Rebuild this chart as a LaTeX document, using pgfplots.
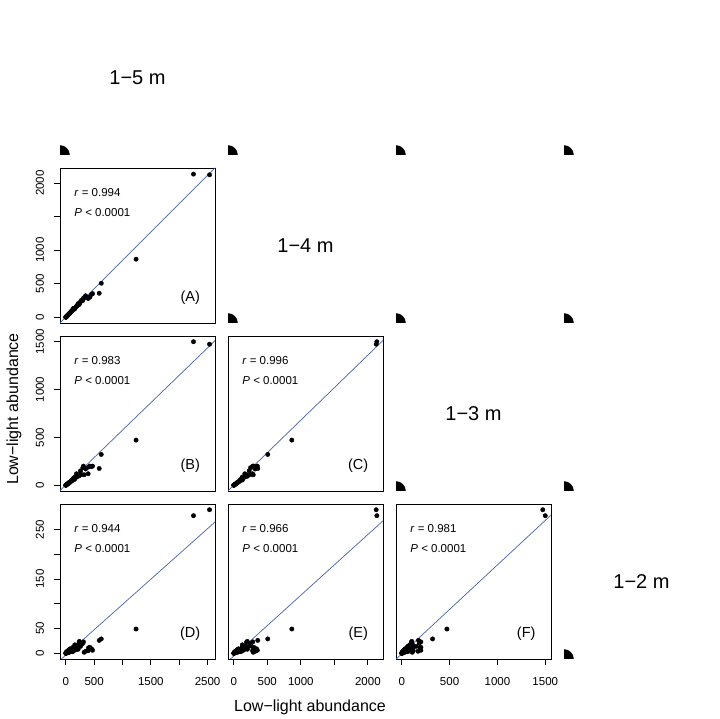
\documentclass[border=0pt]{standalone}
\usepackage{fontspec}
\setmainfont{Liberation Sans}
\usepackage{pgfplots}
\usepackage{pgfplotstable}
\pgfplotsset{compat=1.18}
\definecolor{regline}{RGB}{72,98,168}

\pgfplotstableread{
v1 v2 v3 v4
2535 2124 1474 290
2252 2134 1500 278
1240 866 472 49
626 507 322 29
590 358 175 26
472 352 200 6
454 340 195 9
425 300 200 12
401 290 190 11
395 280 120 5
324 291 110 2
312 284 200 23
301 250 183 20
277 253 112 18
240 202 105 24
236 190 100 22
218 203 94 8
200 170 90 15
180 153 85 7
165 140 70 15
160 128 86 17
150 120 60 10
140 130 75 5
129 128 55 12
120 105 62 3
110 95 48 8
100 90 50 6
90 82 40 4
80 70 35 9
72 60 30 5
65 58 32 2
55 50 25 7
48 42 20 3
40 36 18 5
35 30 15 1
28 25 12 4
22 20 10 2
18 15 8 1
14 12 6 3
10 9 4 1
7 6 3 0
5 4 2 1
3 2 1 0
2 1 1 0
1 1 0 0
260 230 150 14
190 165 120 11
350 320 170 4
}\data

\tikzset{
  rtxt/.style={anchor=west,font=\fontsize{11.5}{13}\selectfont},
  lab/.style={font=\fontsize{14.5}{16}\selectfont},
  diag/.style={font=\fontsize{20}{22}\selectfont},
}
\pgfplotsset{
  panel/.style={width=155pt,height=155pt,scale only axis,anchor=south west,
    axis line style={line width=0.8pt}, xtick=\empty, ytick=\empty, clip=true,
    tick style={black,line width=0.8pt}, major tick length=6pt, tick align=outside,
    xtick pos=left, ytick pos=left,
    tick label style={font=\fontsize{11.5}{13}\selectfont},
    yticklabel style={rotate=90,anchor=south},
    xticklabel shift=9pt, yticklabel shift=6.5pt,
    /pgf/number format/assume math mode=true},
  corner/.style={width=155pt,height=155pt,scale only axis,anchor=south west,
    hide axis, xmin=0,xmax=1,ymin=0,ymax=1, clip=true, clip marker paths=true},
  Xa/.style={xmin=-101.2,xmax=2631.2},
  Xb/.style={xmin=-85.6,xmax=2225.6},
  Xc/.style={xmin=-60,xmax=1560},
  Yb/.style={ymin=-85.6,ymax=2225.6},
  Yc/.style={ymin=-60,ymax=1560},
  Yd/.style={ymin=-11.6,ymax=301.6},
  dots/.style={only marks, mark=*, mark size=2.2pt, black},
  reg/.style={regline, line width=0.7pt, no marks},
  qc/.style={only marks, mark=*, mark size=9.5pt, black},
}

\begin{document}
\begin{tikzpicture}
\path[use as bounding box] (0,0) rectangle (720pt,719pt);

% ---- corner / diagonal cells ----
\begin{axis}[corner, at={(60pt,564pt)}]
\addplot[qc] coordinates {(0,0)};
\node[diag] at (rel axis cs:0.5,0.5) {1−5 m};
\end{axis}
\begin{axis}[corner, at={(228pt,564pt)}]
\addplot[qc] coordinates {(0,0)};
\end{axis}
\begin{axis}[corner, at={(396pt,564pt)}]
\addplot[qc] coordinates {(0,0)};
\end{axis}
\begin{axis}[corner, at={(564pt,564pt)}]
\addplot[qc] coordinates {(0,0)};
\end{axis}
\begin{axis}[corner, at={(228pt,396pt)}]
\addplot[qc] coordinates {(0,0)};
\node[diag] at (rel axis cs:0.5,0.5) {1−4 m};
\end{axis}
\begin{axis}[corner, at={(396pt,396pt)}]
\addplot[qc] coordinates {(0,0)};
\end{axis}
\begin{axis}[corner, at={(564pt,396pt)}]
\addplot[qc] coordinates {(0,0)};
\end{axis}
\begin{axis}[corner, at={(396pt,228pt)}]
\addplot[qc] coordinates {(0,0)};
\node[diag] at (rel axis cs:0.5,0.5) {1−3 m};
\end{axis}
\begin{axis}[corner, at={(564pt,228pt)}]
\addplot[qc] coordinates {(0,0)};
\end{axis}
\begin{axis}[corner, at={(564pt,60pt)}]
\addplot[qc] coordinates {(0,0)};
\node[diag] at (rel axis cs:0.5,0.5) {1−2 m};
\end{axis}

% ---- (A) ----
\begin{axis}[panel, Xa, Yb, at={(60pt,396pt)},
  ytick={0,500,1000,1500,2000}, yticklabels={0,500,1000,,2000}]
\addplot[reg] coordinates {(-150,-126.9) (2700,2284.2)};
\addplot[dots] table[x=v1,y=v2] {\data};
\node[rtxt] at (rel axis cs:0.07,0.84) {\textit{r} = 0.994};
\node[rtxt] at (rel axis cs:0.07,0.71) {\textit{P} < 0.0001};
\node[lab] at (rel axis cs:0.84,0.16) {(A)};
\end{axis}

% ---- (B) ----
\begin{axis}[panel, Xa, Yc, at={(60pt,228pt)},
  ytick={0,500,1000,1500}, yticklabels={0,500,1000,1500}]
\addplot[reg] coordinates {(-150,-83.7) (2700,1550.5)};
\addplot[dots] table[x=v1,y=v3] {\data};
\node[rtxt] at (rel axis cs:0.07,0.84) {\textit{r} = 0.983};
\node[rtxt] at (rel axis cs:0.07,0.71) {\textit{P} < 0.0001};
\node[lab] at (rel axis cs:0.84,0.16) {(B)};
\end{axis}

% ---- (C) ----
\begin{axis}[panel, Xb, Yc, at={(228pt,228pt)}]
\addplot[reg] coordinates {(-150,-102) (2400,1632)};
\addplot[dots] table[x=v2,y=v3] {\data};
\node[rtxt] at (rel axis cs:0.07,0.84) {\textit{r} = 0.996};
\node[rtxt] at (rel axis cs:0.07,0.71) {\textit{P} < 0.0001};
\node[lab] at (rel axis cs:0.84,0.16) {(C)};
\end{axis}

% ---- (D) ----
\begin{axis}[panel, Xa, Yd, at={(60pt,60pt)},
  xtick={0,500,1000,1500,2000,2500}, xticklabels={0,500,,1500,,2500},
  ytick={0,50,100,150,200,250}, yticklabels={0,50,,150,,250}]
\addplot[reg] coordinates {(-150,-19.03) (2700,272.2)};
\addplot[dots] table[x=v1,y=v4] {\data};
\node[rtxt] at (rel axis cs:0.07,0.84) {\textit{r} = 0.944};
\node[rtxt] at (rel axis cs:0.07,0.71) {\textit{P} < 0.0001};
\node[lab] at (rel axis cs:0.84,0.16) {(D)};
\end{axis}

% ---- (E) ----
\begin{axis}[panel, Xb, Yd, at={(228pt,60pt)},
  xtick={0,500,1000,1500,2000}, xticklabels={0,500,1000,,2000}]
\addplot[reg] coordinates {(-150,-23.9) (2400,289)};
\addplot[dots] table[x=v2,y=v4] {\data};
\node[rtxt] at (rel axis cs:0.07,0.84) {\textit{r} = 0.966};
\node[rtxt] at (rel axis cs:0.07,0.71) {\textit{P} < 0.0001};
\node[lab] at (rel axis cs:0.84,0.16) {(E)};
\end{axis}

% ---- (F) ----
\begin{axis}[panel, Xc, Yd, at={(396pt,60pt)},
  xtick={0,500,1000,1500}, xticklabels={0,500,1000,1500}]
\addplot[reg] coordinates {(-100,-19.3) (1700,304.4)};
\addplot[dots] table[x=v3,y=v4] {\data};
\node[rtxt] at (rel axis cs:0.07,0.84) {\textit{r} = 0.981};
\node[rtxt] at (rel axis cs:0.07,0.71) {\textit{P} < 0.0001};
\node[lab] at (rel axis cs:0.84,0.16) {(F)};
\end{axis}

\node[font=\fontsize{16}{18}\selectfont] at (310pt,12pt) {Low−light abundance};
\node[font=\fontsize{16}{18}\selectfont,rotate=90] at (14pt,310pt) {Low−light abundance};
\end{tikzpicture}
\end{document}
